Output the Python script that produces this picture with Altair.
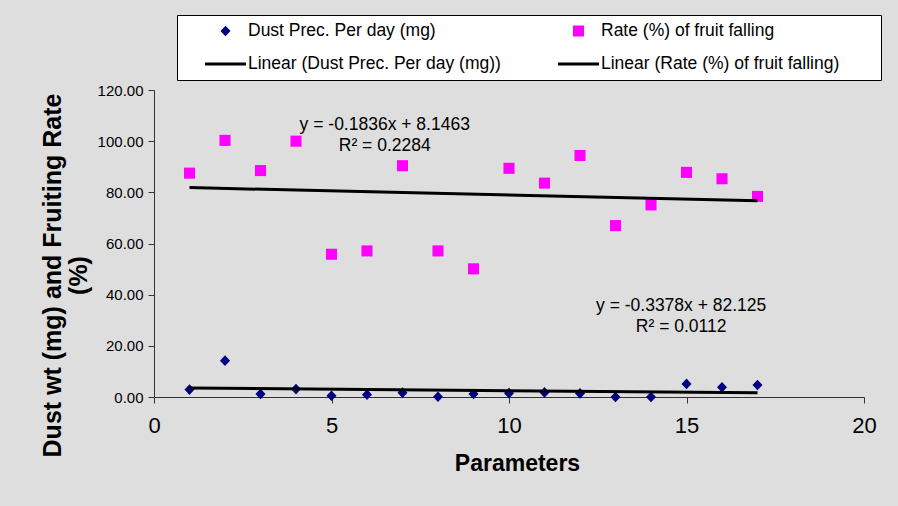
import altair as alt
import pandas as pd

# ---- data ----
params = list(range(1, 18))
dust = [2.9, 14.2, 1.2, 3.1, 0.5, 0.9, 1.7, 0.1, 1.2, 1.5, 1.8, 1.4, 0.0, 0.0, 5.1, 3.8, 4.7]
rate = [87.5, 100.3, 88.5, 100.0, 55.8, 57.1, 90.4, 57.1, 50.1, 89.4, 83.6, 94.4, 67.0, 75.1, 87.8, 85.3, 78.4]

# legend order (filled column by column): Dust, Linear Dust | Rate, Linear Rate
series_names = [
    "Dust Prec. Per day (mg)",
    "Linear (Dust Prec. Per day (mg))",
    "Rate (%) of fruit falling",
    "Linear (Rate (%) of fruit falling)",
]
annot_text = ["y = -0.1836x + 8.1463", "R² = 0.2284", "y = -0.3378x + 82.125", "R² = 0.0112"]
annot_x = [6.5, 6.5, 14.85, 14.85]
annot_y = [106.3, 98.3, 35.6, 27.5]

x_ticks = [0, 5, 10, 15, 20]
y_ticks = [0, 20, 40, 60, 80, 100, 120]

# ---- tables ----
df = pd.DataFrame({
    "param": params * 2,
    "value": dust + rate,
    "series": [series_names[0]] * len(params) + [series_names[2]] * len(params),
})
ann = pd.DataFrame({"x": annot_x, "y": annot_y, "text": annot_text})

FONT = "Liberation Sans, Arial, sans-serif"
SYM = 1681  # symbol area, unit path coordinate = 20.5 px

diamond = "M0,-0.26L0.245,0L0,0.26L-0.245,0Z"
square = "M-0.27,-0.27L0.27,-0.27L0.27,0.27L-0.27,0.27Z"
bar = "M-1,-0.075L1,-0.075L1,0.075L-1,0.075Z"

x_enc = alt.X(
    "param:Q",
    scale=alt.Scale(domain=[0, 20], nice=False, zero=False),
    axis=alt.Axis(
        values=x_ticks, format="d", grid=False, labelFlush=False,
        labelFontSize=22, labelFont=FONT, labelColor="black", labelPadding=12,
        tickSize=6, tickColor="#333333", domainColor="#333333",
        title="Parameters", titleFont=FONT, titleFontSize=23, titleFontWeight="bold",
        titleColor="black", titleX=363, titleY=55, titleAlign="center",
    ),
)
y_enc = alt.Y(
    "value:Q",
    scale=alt.Scale(domain=[0, 120], nice=False),
    axis=alt.Axis(
        values=y_ticks, format=".2f", grid=False,
        labelFontSize=15, labelFont=FONT, labelColor="black", labelPadding=5,
        tickSize=6, tickColor="#333333", domainColor="#333333",
        title=["Dust wt (mg) and Fruiting Rate", "(%)"], titleFont=FONT,
        titleFontSize=25, titleFontWeight="bold", titleColor="black",
        titleAngle=270, titleX=-89, titleY=185, titleAlign="center",
        titleBaseline="bottom", titleLineHeight=26,
    ),
)

legend = alt.Legend(
    title=" ", titleFontSize=1, titleOrient="right", titlePadding=37,
    orient="none", legendX=23, legendY=-75, columns=2,
    padding=5, symbolOffset=23, labelOffset=2, columnPadding=34, rowPadding=11,
    clipHeight=22, symbolSize=SYM, symbolStrokeWidth=0, symbolOpacity=1,
    labelFont=FONT, labelFontSize=17.5, labelColor="black", labelLimit=400,
    fillColor="white", strokeColor="black",
)

points = alt.Chart(df).mark_point(filled=True, size=SYM, opacity=1, strokeWidth=0).encode(
    x=x_enc,
    y=y_enc,
    color=alt.Color("series:N", scale=alt.Scale(domain=series_names,
                    range=["#000080", "#000000", "#FF00FF", "#000000"]), legend=legend),
    shape=alt.Shape("series:N", scale=alt.Scale(domain=series_names,
                    range=[diamond, bar, square, bar]), legend=legend),
)

lines = alt.Chart(df).transform_regression(
    "param", "value", groupby=["series"]
).mark_line(color="black", strokeWidth=3).encode(
    x="param:Q", y="value:Q", detail="series:N"
)

texts = alt.Chart(ann).mark_text(
    font=FONT, fontSize=17.5, color="black", align="center", baseline="middle"
).encode(x="x:Q", y="y:Q", text="text:N")

chart = alt.layer(points, lines, texts).properties(
    width=710, height=307,
    padding={"left": 154, "top": 90, "right": 34, "bottom": 109},
    autosize="none",
    background="#dedede",
).configure_view(stroke=None)

chart.save("out.html", embed_options={"renderer": "svg", "actions": False})
